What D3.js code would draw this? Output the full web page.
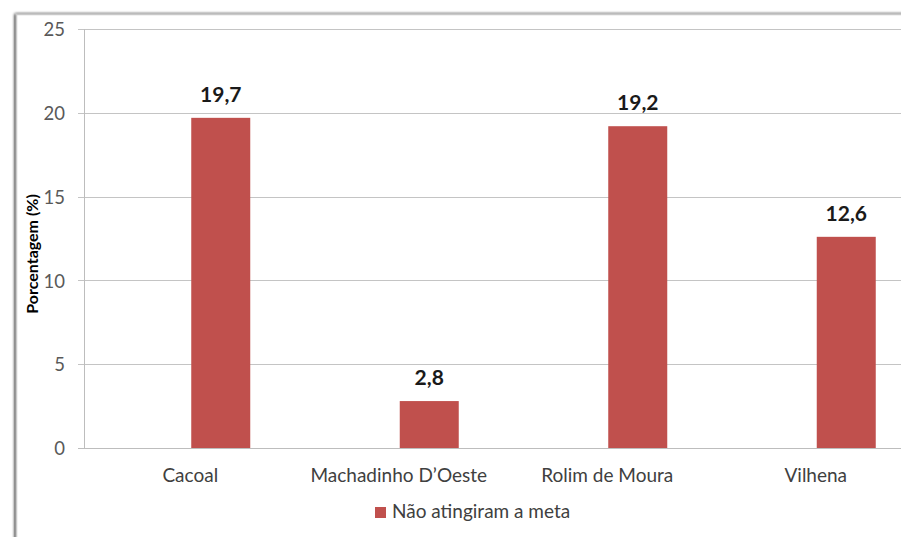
<!DOCTYPE html>
<html>
<head>
<meta charset="utf-8">
<script src="https://cdn.jsdelivr.net/npm/d3@7"></script>
<style>
  html, body { margin: 0; padding: 0; background: #fff; }
  svg { display: block; }
</style>
</head>
<body>
<script>
const categories = ["Cacoal", "Machadinho D\u2019Oeste", "Rolim de Moura", "Vilhena"];
const values = [19.7, 2.8, 19.2, 12.6];
const valueLabels = ["19,7", "2,8", "19,2", "12,6"];
const yTicks = [0, 5, 10, 15, 20, 25];
const seriesName = "Não atingiram a meta";
const yTitle = "Porcentagem (%)";

const W = 901, H = 537;
const font = "Lato, 'Open Sans', sans-serif";
const svg = d3.select("body").append("svg").attr("width", W).attr("height", H);

// frame with shadow
const defs = svg.append("defs");
const f = defs.append("filter").attr("id", "sh").attr("x", "-5%").attr("y", "-5%").attr("width", "110%").attr("height", "110%");
f.append("feGaussianBlur").attr("in", "SourceAlpha").attr("stdDeviation", 1.5);
f.append("feOffset").attr("dx", -1).attr("dy", 0).attr("result", "b");
const m = f.append("feMerge"); m.append("feMergeNode").attr("in", "b"); m.append("feMergeNode").attr("in", "SourceGraphic");
svg.append("rect").attr("x", 16.5).attr("y", 14.5).attr("width", 900).attr("height", 540)
  .attr("fill", "#fff").attr("stroke", "#c8c8c8").attr("stroke-width", 1.5).attr("filter", "url(#sh)");

const plot = { left: 84, top: 29, bottom: 448, right: 920 };
const y = d3.scaleLinear().domain([0, 25]).range([plot.bottom, plot.top]);
const x = d3.scaleBand().domain(categories).range([plot.left + 2, plot.right]).paddingInner(0).paddingOuter(0);
const barW = 59;

// gridlines
svg.append("g").selectAll("line").data(yTicks).join("line")
  .attr("x1", plot.left - 6).attr("x2", W)
  .attr("y1", d => Math.round(y(d)) + 0.5).attr("y2", d => Math.round(y(d)) + 0.5)
  .attr("stroke", d => d === 0 ? "#bdbdbd" : "#c4c4c4").attr("stroke-width", 1);

// y axis line
svg.append("line").attr("x1", plot.left + 0.5).attr("x2", plot.left + 0.5)
  .attr("y1", plot.top).attr("y2", plot.bottom + 1).attr("stroke", "#bdbdbd");

// y tick labels
const yAxis = d3.axisLeft(y).tickValues(yTicks).tickSize(0).tickPadding(0);
const ya = svg.append("g").attr("transform", `translate(${plot.left - 19},0)`).call(yAxis);
ya.select(".domain").remove();
ya.selectAll("text").attr("font-family", font).attr("font-size", 18.5).attr("fill", "#595959").attr("dy", "0.36em");

// y title
svg.append("text").attr("transform", `translate(38,254) rotate(-90)`)
  .attr("text-anchor", "middle").attr("font-family", font).attr("font-size", 16)
  .attr("font-weight", "bold").attr("fill", "#000").text(yTitle);

// bars
const cx = d => x(d) + x.bandwidth() / 2;
svg.append("g").selectAll("rect").data(categories).join("rect")
  .attr("x", d => cx(d) + 1).attr("width", barW)
  .attr("y", (d, i) => y(values[i])).attr("height", (d, i) => y(0) - y(values[i]))
  .attr("fill", "#C0504D");

// value labels
svg.append("g").selectAll("text").data(categories).join("text")
  .attr("x", d => cx(d) + 1 + barW / 2).attr("y", (d, i) => y(values[i]) - 16)
  .attr("text-anchor", "middle").attr("font-family", font).attr("font-size", 21)
  .attr("font-weight", "bold").attr("fill", "#1a1a1a").text((d, i) => valueLabels[i]);

// x labels
const xAxis = d3.axisBottom(x).tickSize(0).tickPadding(0);
const xa = svg.append("g").attr("transform", `translate(0,482)`).call(xAxis);
xa.select(".domain").remove();
xa.selectAll("text").attr("font-family", font).attr("font-size", 19).attr("fill", "#404040").attr("dy", "0");

// legend
const lg = svg.append("g").attr("transform", "translate(375,507)");
lg.append("rect").attr("width", 11).attr("height", 11).attr("fill", "#C0504D");
lg.append("text").attr("x", 17).attr("y", 10.5).attr("font-family", font).attr("font-size", 19)
  .attr("fill", "#404040").text(seriesName);
</script>
</body>
</html>
